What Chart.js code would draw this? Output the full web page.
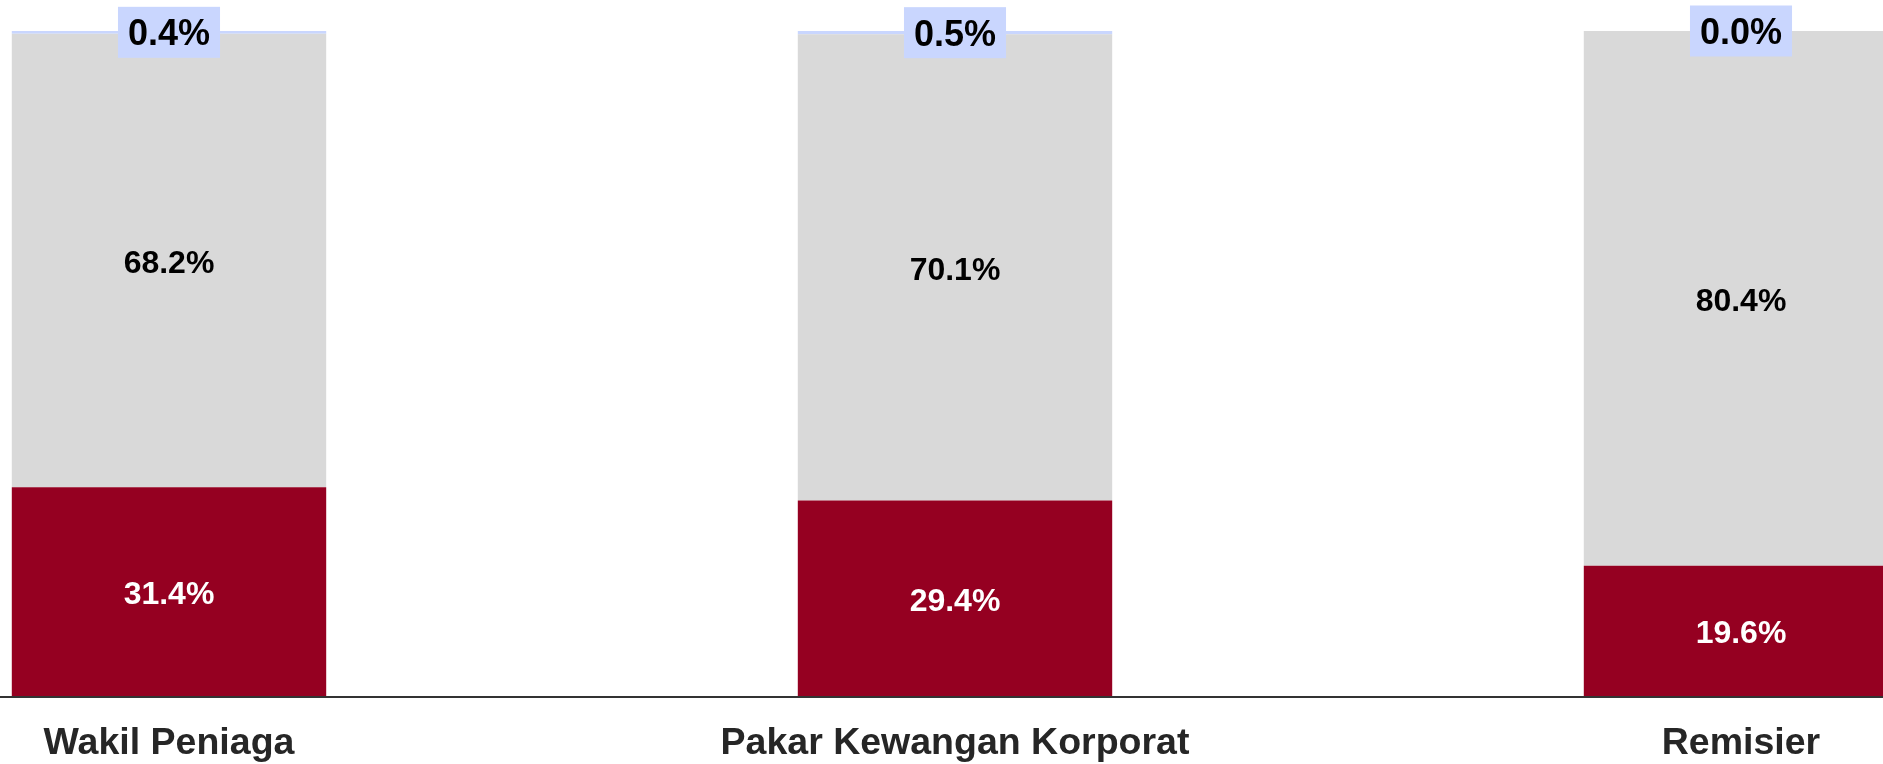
<!DOCTYPE html>
<html lang="en">
<head>
<meta charset="UTF-8">
<title>Share by group</title>
<script src="https://cdn.jsdelivr.net/npm/chart.js"></script>
<style>
    html, body { margin: 0; padding: 0; background: #ffffff; }
    .wrap { position: relative; width: 1883px; height: 764px; }
</style>
</head>
<body>
<div class="wrap"><canvas id="shareChart"></canvas></div>
<script>
    const categories = ['Wakil Peniaga', 'Pakar Kewangan Korporat', 'Remisier'];
    const bottomShare = [31.4, 29.4, 19.6];
    const middleShare = [68.2, 70.1, 80.4];
    const topShare = [0.4, 0.5, 0.0];

    const RED = '#950021';
    const GREY = '#d9d9d9';
    const BLUE = '#c9d6fe';
    const FONT = '"Liberation Sans", Arial, sans-serif';

    // value labels + full-width axis line
    const valueLabels = {
        id: 'valueLabels',
        afterDatasetsDraw(chart) {
            const ctx = chart.ctx;
            const yZero = chart.scales.y.getPixelForValue(0);
            ctx.save();
            ctx.strokeStyle = '#333333';
            ctx.lineWidth = 2;
            ctx.beginPath();
            ctx.moveTo(0, yZero + 1);
            ctx.lineTo(chart.width, yZero + 1);
            ctx.stroke();

            ctx.textAlign = 'center';
            ctx.textBaseline = 'alphabetic';
            chart.data.datasets.forEach((ds, i) => {
                const meta = chart.getDatasetMeta(i);
                meta.data.forEach((bar, j) => {
                    const txt = ds.data[j].toFixed(1) + '%';
                    const cy = (bar.y + bar.base) / 2;
                    if (i === 2) {
                        ctx.font = 'bold 36px ' + FONT;
                        const w = ctx.measureText(txt).width;
                        ctx.fillStyle = BLUE;
                        ctx.fillRect(bar.x - w / 2 - 10, cy - 25.5, w + 20, 51);
                        ctx.fillStyle = '#000000';
                        ctx.fillText(txt, bar.x, cy + 36 * 0.358);
                    } else {
                        ctx.font = 'bold 32px ' + FONT;
                        ctx.fillStyle = i === 0 ? '#ffffff' : '#000000';
                        ctx.fillText(txt, bar.x, cy + 32 * 0.358 + 1);
                    }
                });
            });
            ctx.restore();
        }
    };

    const chart = new Chart(document.getElementById('shareChart'), {
        type: 'bar',
        data: {
            labels: categories,
            datasets: [
                { label: 'Bottom', data: bottomShare, backgroundColor: RED },
                { label: 'Middle', data: middleShare, backgroundColor: GREY },
                { label: 'Top', data: topShare, backgroundColor: BLUE }
            ]
        },
        options: {
            responsive: true,
            maintainAspectRatio: false,
            animation: false,
            layout: { padding: { left: 169, right: 142, top: 31, bottom: 0 } },
            datasets: { bar: { barPercentage: 0.5, categoryPercentage: 0.8, borderWidth: 0, clip: false } },
            plugins: { legend: { display: false }, tooltip: { enabled: false } },
            scales: {
                x: {
                    stacked: true,
                    offset: false,
                    grid: { display: false, drawTicks: false },
                    border: { display: false },
                    afterFit(scale) { scale.height = 68; },
                    ticks: {
                        autoSkip: false,
                        maxRotation: 0,
                        padding: 25,
                        color: '#262626',
                        font: { family: FONT, size: 37.5, weight: 'bold' }
                    }
                },
                y: { stacked: true, display: false, min: 0, max: 100 }
            }
        },
        plugins: [valueLabels]
    });
</script>
</body>
</html>
